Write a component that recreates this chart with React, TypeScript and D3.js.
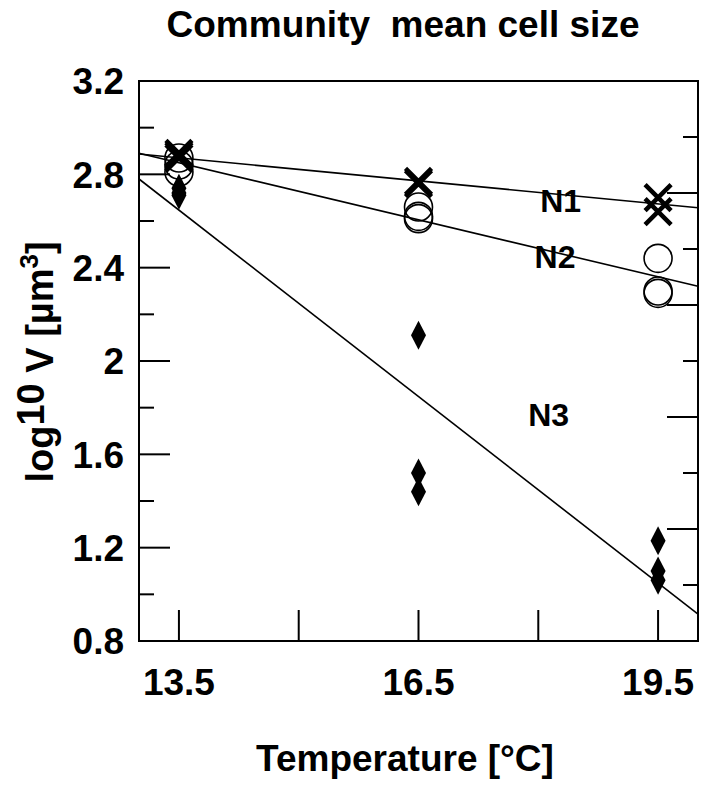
import React, { useRef, useEffect } from 'react';
import * as d3 from 'd3';

const n1Temp = [13.5, 13.5, 13.5, 16.5, 16.5, 19.5, 19.5];
const n1Size = [2.89, 2.88, 2.87, 2.77, 2.76, 2.70, 2.64];

const n2Temp = [13.5, 13.5, 13.5, 16.5, 16.5, 16.5, 19.5, 19.5, 19.5];
const n2Size = [2.87, 2.84, 2.81, 2.66, 2.62, 2.61, 2.44, 2.30, 2.29];

const n3Temp = [13.5, 13.5, 13.5, 16.5, 16.5, 16.5, 19.5, 19.5, 19.5];
const n3Size = [2.74, 2.72, 2.71, 2.11, 1.52, 1.44, 1.23, 1.10, 1.06];

// regression lines, end values at the frame edges
const fitTemp = [13, 20];
const n1Fit = [2.887, 2.657];
const n2Fit = [2.89, 2.32];
const n3Fit = [2.78, 0.915];

const xTicks = [13.5, 15, 16.5, 18, 19.5];
const xLabels = ['13.5', '16.5', '19.5'];
const yTicks = d3.range(8, 33, 2).map(d => d / 10);
const yLabels = ['0.8', '1.2', '1.6', '2', '2.4', '2.8', '3.2'];
const rightTicks = d3.range(1, 10);

const seriesLabels = [
  { name: 'N1', t: 18.28, v: 2.69 },
  { name: 'N2', t: 18.21, v: 2.45 },
  { name: 'N3', t: 18.13, v: 1.77 },
];

const FONT = '"Liberation Sans", Arial, sans-serif';

const App = () => {
  const svgRef = useRef(null);

  const W = 709;
  const H = 788;
  const left = 139;
  const right = 698;
  const top = 81;
  const bottom = 641;

  useEffect(() => {
    const svg = d3.select(svgRef.current);
    svg.selectAll('*').remove();

    const x = d3.scaleLinear().domain([13, 20]).range([left, right]);
    const y = d3.scaleLinear().domain([0.8, 3.2]).range([bottom, top]);
    const yRight = d3.scaleLinear().domain([0, 10]).range([bottom, top]);

    // frame
    svg
      .append('rect')
      .attr('x', left)
      .attr('y', top)
      .attr('width', right - left)
      .attr('height', bottom - top)
      .attr('fill', 'none')
      .attr('stroke', '#000')
      .attr('stroke-width', 2);

    const labelled = v => yLabels.includes(String(+v.toFixed(1)));

    // left ticks
    svg
      .append('g')
      .selectAll('line')
      .data(yTicks)
      .join('line')
      .attr('x1', left)
      .attr('x2', d => left + (labelled(d) ? 31 : 15))
      .attr('y1', d => y(d))
      .attr('y2', d => y(d))
      .attr('stroke', '#000')
      .attr('stroke-width', 2);

    svg
      .append('g')
      .selectAll('text')
      .data(yLabels)
      .join('text')
      .attr('x', 124)
      .attr('y', d => y(+d))
      .attr('dy', '0.36em')
      .attr('text-anchor', 'end')
      .attr('font-family', FONT)
      .attr('font-weight', 'bold')
      .attr('font-size', 37)
      .text(d => d);

    // right ticks
    svg
      .append('g')
      .selectAll('line')
      .data(rightTicks)
      .join('line')
      .attr('x1', right)
      .attr('x2', d => right - (d % 2 === 0 ? 31 : 15))
      .attr('y1', d => yRight(d))
      .attr('y2', d => yRight(d))
      .attr('stroke', '#000')
      .attr('stroke-width', 2);

    // bottom ticks
    svg
      .append('g')
      .selectAll('line')
      .data(xTicks)
      .join('line')
      .attr('x1', d => x(d))
      .attr('x2', d => x(d))
      .attr('y1', bottom)
      .attr('y2', bottom - 31)
      .attr('stroke', '#000')
      .attr('stroke-width', 2);

    svg
      .append('g')
      .selectAll('text')
      .data(xLabels)
      .join('text')
      .attr('x', d => x(+d))
      .attr('y', 695)
      .attr('text-anchor', 'middle')
      .attr('font-family', FONT)
      .attr('font-weight', 'bold')
      .attr('font-size', 37)
      .text(d => d);

    // fitted lines
    const line = d3
      .line()
      .x(d => x(d[0]))
      .y(d => y(d[1]));

    [n1Fit, n2Fit, n3Fit].forEach(fit => {
      svg
        .append('path')
        .datum(fitTemp.map((t, i) => [t, fit[i]]))
        .attr('d', line)
        .attr('fill', 'none')
        .attr('stroke', '#000')
        .attr('stroke-width', 1.6);
    });

    // N3 diamonds
    svg
      .append('g')
      .selectAll('path')
      .data(n3Temp.map((t, i) => [t, n3Size[i]]))
      .join('path')
      .attr('transform', d => `translate(${x(d[0])},${y(d[1])})`)
      .attr('d', 'M0,-14.5L7.5,0L0,14.5L-7.5,0Z')
      .attr('fill', '#000');

    // N2 circles
    svg
      .append('g')
      .selectAll('circle')
      .data(n2Temp.map((t, i) => [t, n2Size[i]]))
      .join('circle')
      .attr('cx', d => x(d[0]))
      .attr('cy', d => y(d[1]))
      .attr('r', 14)
      .attr('fill', 'none')
      .attr('stroke', '#000')
      .attr('stroke-width', 1.6);

    // N1 crosses
    svg
      .append('g')
      .selectAll('path')
      .data(n1Temp.map((t, i) => [t, n1Size[i]]))
      .join('path')
      .attr('transform', d => `translate(${x(d[0])},${y(d[1])})`)
      .attr('d', 'M-13,-13L13,13M-13,13L13,-13')
      .attr('fill', 'none')
      .attr('stroke', '#000')
      .attr('stroke-width', 4.5);

    // series names
    svg
      .append('g')
      .selectAll('text')
      .data(seriesLabels)
      .join('text')
      .attr('x', d => x(d.t))
      .attr('y', d => y(d.v))
      .attr('dy', '0.36em')
      .attr('text-anchor', 'middle')
      .attr('font-family', FONT)
      .attr('font-weight', 'bold')
      .attr('font-size', 32)
      .text(d => d.name);

    // titles
    svg
      .append('text')
      .attr('x', 403)
      .attr('y', 37)
      .attr('text-anchor', 'middle')
      .attr('font-family', FONT)
      .attr('font-weight', 'bold')
      .attr('font-size', 37)
      .style('white-space', 'pre')
      .text('Community  mean cell size');

    svg
      .append('text')
      .attr('x', 405)
      .attr('y', 771)
      .attr('text-anchor', 'middle')
      .attr('font-family', FONT)
      .attr('font-weight', 'bold')
      .attr('font-size', 37)
      .text('Temperature [°C]');

    const yTitle = svg
      .append('text')
      .attr('transform', 'translate(53,362) rotate(-90)')
      .attr('text-anchor', 'middle')
      .attr('font-family', FONT)
      .attr('font-weight', 'bold')
      .attr('font-size', 38);
    yTitle.append('tspan').text('log');
    yTitle.append('tspan').attr('dy', -9).text('10');
    yTitle.append('tspan').attr('dy', 9).text(' V [µm');
    yTitle.append('tspan').attr('dy', -15).attr('font-size', 26).text('3');
    yTitle.append('tspan').attr('dy', 15).text(']');
  }, []);

  return (
    <svg
      ref={svgRef}
      width={W}
      height={H}
      style={{ position: 'absolute', left: 0, top: 0, display: 'block', background: '#fff' }}
    />
  );
};

export default App;
